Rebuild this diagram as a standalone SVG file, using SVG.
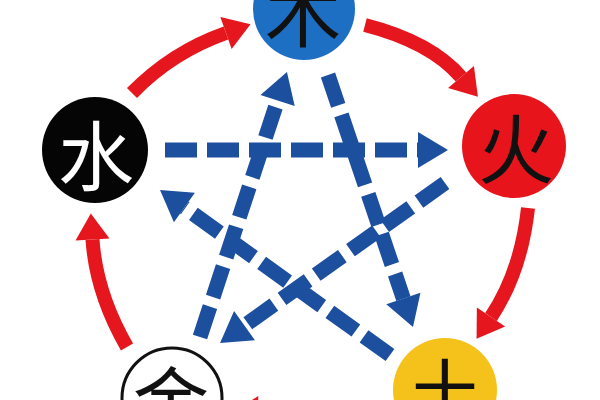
<svg xmlns="http://www.w3.org/2000/svg" width="600" height="400" viewBox="0 0 600 400">
<style>
.blue{fill:none;stroke:#1d4f9f;stroke-width:15;stroke-dasharray:32 10;marker-end:url(#bh)}
.red{fill:none;stroke:#e5161d;stroke-width:14;marker-end:url(#rh)}
.ch{font-family:"Noto Sans CJK SC","Noto Sans CJK JP",sans-serif;font-size:76px;text-anchor:middle;dominant-baseline:central}
</style>
<defs>
<marker id="bh" markerUnits="userSpaceOnUse" markerWidth="32" markerHeight="36" refX="0" refY="18" orient="auto" overflow="visible">
<path d="M0,0 L30,18 L0,36 Z" fill="#1d4f9f"/>
</marker>
<marker id="rh" markerUnits="userSpaceOnUse" markerWidth="28" markerHeight="36" refX="0" refY="17" orient="auto" overflow="visible">
<path d="M0,0 L26,17 L0,34 Z" fill="#e5161d"/>
</marker>
</defs>
<rect width="600" height="400" fill="#ffffff"/>
<g id="connectors">
<path class="red" d="M132,93 Q172,52 226,33"/>
<path class="red" d="M365,25 Q431,42 461,77"/>
<path class="red" d="M528,208 Q521,272 491,317"/>
<path class="red" d="M390,432 Q320,414 258,413"/>
<path class="red" d="M127,347 Q96,293 92.5,239.5"/>
<path class="blue" d="M165,150 L418,150"/>
<path class="blue" d="M200,337 L277.6,100.5"/>
<path class="blue" d="M328,75 L403.4,298.6"/>
<path class="blue" d="M390,355 L184.4,207.5"/>
<path class="blue" d="M445,183 L244.5,325.6"/>
</g>
<g id="wood">
<circle cx="304" cy="9" r="51" fill="#1d6fc4"/>
<text class="ch" x="303" y="8" fill="#111">木</text>
</g>
<g id="fire">
<circle cx="514" cy="146" r="52" fill="#e8141c"/>
<text class="ch" x="516" y="145" fill="#111">火</text>
</g>
<g id="earth">
<circle cx="445" cy="390" r="52" fill="#f5c21b"/>
<text class="ch" x="445" y="390" fill="#111">土</text>
</g>
<g id="metal">
<circle cx="172" cy="398" r="50" fill="#ffffff" stroke="#111" stroke-width="3"/>
<text class="ch" x="171" y="398" fill="#111">金</text>
</g>
<g id="water">
<circle cx="95" cy="150" r="53" fill="#050505"/>
<text class="ch" x="96" y="152" fill="#ffffff">水</text>
</g>
</svg>
